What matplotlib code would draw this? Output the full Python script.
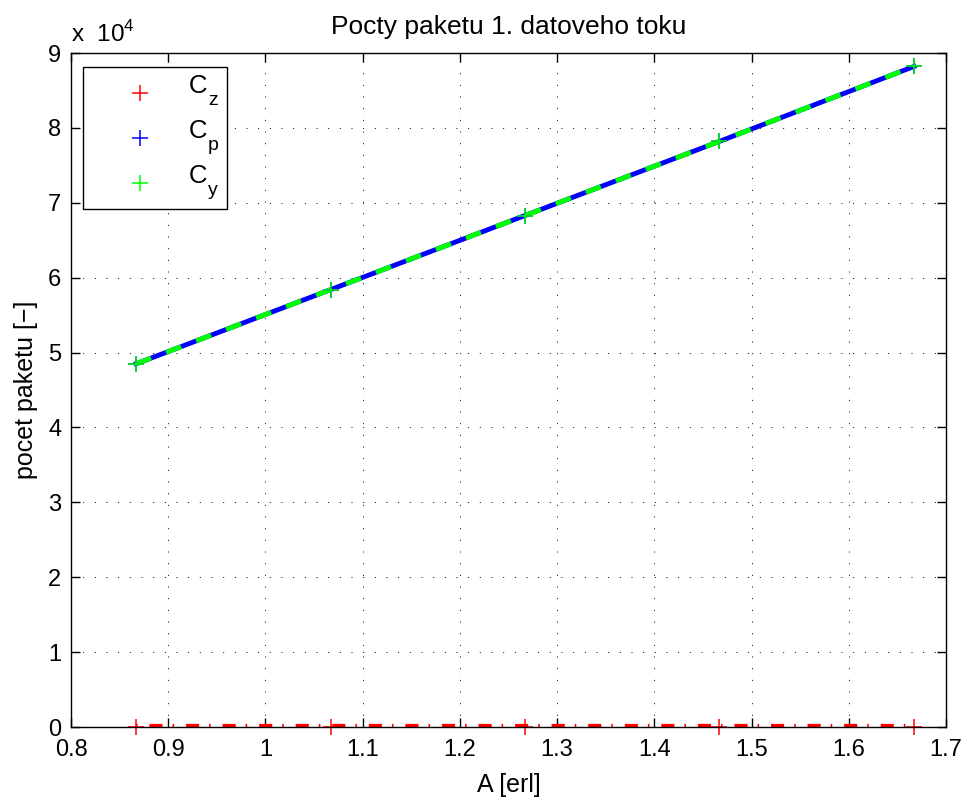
"""
Pocty paketu 1. datoveho toku - prepis grafu z MATLABu
"""
import matplotlib.pyplot as plt
from matplotlib.patches import Rectangle

plt.rcParams['font.family'] = ['Liberation Sans', 'DejaVu Sans']
plt.rcParams['mathtext.fontset'] = 'custom'
plt.rcParams['mathtext.rm'] = 'Liberation Sans'

# zatizeni A [erl]
A = [0.867, 1.067, 1.267, 1.467, 1.667]
# pocty paketu
C_z = [0, 0, 0, 0, 0]
C_p = [48500, 58400, 68300, 78200, 88200]
C_y = [48500, 58400, 68300, 78200, 88200]

SCALE = 1e4
GREEN = '#00ff00'
legend_colors = ['red', 'blue', GREEN]
legend_subs = ['z', 'p', 'y']

FIG_W, FIG_H = 969, 798
AX_L, AX_T, AX_W, AX_H = 71, 53, 875, 674

fig = plt.figure(figsize=(FIG_W / 100, FIG_H / 100), dpi=100)
ax = fig.add_axes([AX_L / FIG_W, 1 - (AX_T + AX_H) / FIG_H, AX_W / FIG_W, AX_H / FIG_H])

y_z = [v / SCALE for v in C_z]
y_p = [v / SCALE for v in C_p]
y_y = [v / SCALE for v in C_y]

# cary
ax.plot(A, y_z, color='red', linewidth=4.5,
        linestyle=(3.7, (2.1, 1.6, 0.25, 1.9)), zorder=2)
ax.plot(A, y_p, color='blue', linestyle='-', linewidth=3.5, zorder=3)
ax.plot(A, y_y, color=GREEN, linestyle=(0, (3.3, 3.3)), linewidth=3.5, zorder=4)

# znacky
ax.plot(A, y_z, 'r+', markersize=12, markeredgewidth=1.1, clip_on=False, zorder=5)
ax.plot(A, y_p, 'b+', markersize=12, markeredgewidth=1.1, zorder=5)
ax.plot(A, y_y, '+', color=GREEN, markersize=12, markeredgewidth=1.1, zorder=6)

ax.set_xlim(0.8, 1.7)
ax.set_ylim(0, 9)
ax.set_xticks([0.8, 0.9, 1.0, 1.1, 1.2, 1.3, 1.4, 1.5, 1.6, 1.7])
ax.set_xticklabels(['0.8', '0.9', '1', '1.1', '1.2', '1.3', '1.4', '1.5', '1.6', '1.7'])
ax.set_yticks(range(10))
ax.tick_params(direction='in', length=6.5, width=1, labelsize=17, top=True, right=True)
ax.tick_params(axis='x', pad=9)
ax.tick_params(axis='y', pad=7)
ax.grid(True, color='black', linestyle=(0, (1, 11)), linewidth=0.7)
for s in ax.spines.values():
    s.set_linewidth(1)
    s.set_zorder(7)

ax.text(0.0, 1.017, r'x  10$^{\mathregular{4}}$', transform=ax.transAxes, fontsize=17.5,
        ha='left', va='baseline')
ax.set_title('Pocty paketu 1. datoveho toku', fontsize=19, pad=14)
ax.set_xlabel('A [erl]', fontsize=18, labelpad=8)
ax.set_ylabel('pocet paketu [\u2212]', fontsize=18, labelpad=7)


# legenda ve stylu MATLABu (popisky s nizko posazenym indexem)
def px(x, y):
    """pixel ve figure -> souradnice os"""
    return (x - AX_L) / AX_W, 1 - (y - AX_T) / AX_H


x0, y0 = px(83, 209)
x1, y1 = px(227, 67)
ax.add_patch(Rectangle((x0, y0), x1 - x0, y1 - y0, transform=ax.transAxes,
                       facecolor='white', edgecolor='black', linewidth=1,
                       zorder=8, clip_on=False))
for i, (col, sub) in enumerate(zip(legend_colors, legend_subs)):
    row_y = 93 + 45 * i
    mx, my = px(140, row_y)
    ax.plot([mx], [my], '+', color=col, markersize=11.5, markeredgewidth=1.1,
            transform=ax.transAxes, clip_on=False, zorder=9)
    tx, ty = px(189, row_y)
    ax.text(tx, ty, 'C', transform=ax.transAxes, fontsize=18.5,
            ha='left', va='baseline', zorder=9)
    sx, sy = px(208, row_y + 12)
    ax.text(sx, sy, sub, transform=ax.transAxes, fontsize=14,
            ha='left', va='baseline', zorder=9)

fig.savefig('out.png', dpi=100)
